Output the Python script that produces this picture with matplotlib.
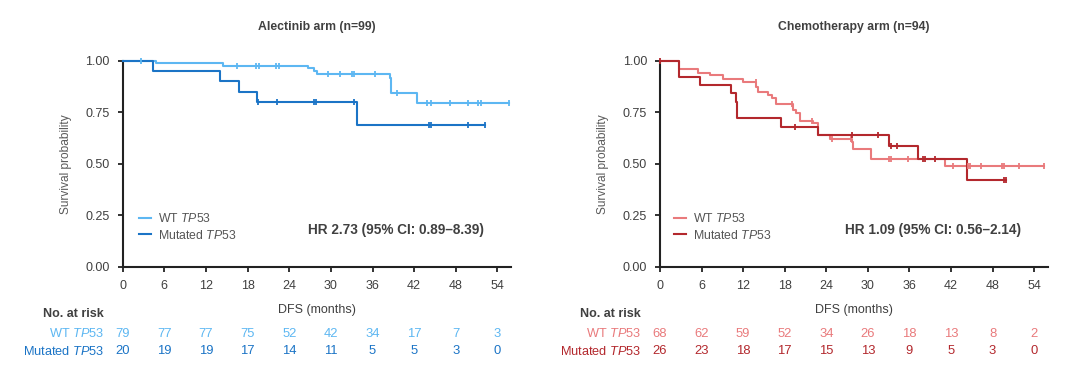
import numpy as np
import matplotlib
matplotlib.use("Agg")
import matplotlib.pyplot as plt
import matplotlib.transforms as mtransforms
from matplotlib.lines import Line2D

plt.rcParams['font.family'] = ['Liberation Sans', 'DejaVu Sans']
plt.rcParams['mathtext.fontset'] = 'custom'
plt.rcParams['mathtext.it'] = 'Liberation Sans:italic'
plt.rcParams['mathtext.rm'] = 'Liberation Sans'

# ---------------- data ----------------
month_ticks = [0, 6, 12, 18, 24, 30, 36, 42, 48, 54]
y_ticks = [0.00, 0.25, 0.50, 0.75, 1.00]

# Alectinib arm
alec_wt_times = [0, 4.8, 14.4, 26.7, 27.5, 28.0, 38.5, 38.7, 42.4, 55.6]
alec_wt_surv = [1.0, 0.987, 0.975, 0.963, 0.951, 0.935, 0.914, 0.842, 0.796, 0.796]
alec_wt_cens = [2.7, 16.4, 19.2, 19.6, 22.1, 22.5, 29.6, 31.3, 33.0, 33.3, 36.4,
                39.5, 43.9, 44.5, 47.1, 49.8, 51.2, 51.7, 55.6]
alec_mut_times = [0, 4.3, 14.0, 16.8, 19.3, 33.7, 52.2]
alec_mut_surv = [1.0, 0.95, 0.90, 0.85, 0.80, 0.686, 0.686]
alec_mut_cens = [19.5, 22.2, 27.5, 27.8, 33.3, 44.2, 44.5, 49.7, 52.2]
alec_wt_risk = [79, 77, 77, 75, 52, 42, 34, 17, 7, 3]
alec_mut_risk = [20, 19, 19, 17, 14, 11, 5, 5, 3, 0]

# Chemotherapy arm
chemo_wt_times = [0, 2.74, 5.5, 7.2, 9.1, 12.0, 13.9, 14.1, 15.6, 16.1, 16.8, 19.2,
                  19.7, 20.2, 22.1, 22.8, 24.5, 27.7, 27.9, 30.4, 41.1, 55.4]
chemo_wt_surv = [1.0, 0.958, 0.942, 0.929, 0.911, 0.895, 0.874, 0.846, 0.833, 0.82,
                 0.788, 0.761, 0.745, 0.709, 0.696, 0.639, 0.62, 0.605, 0.57, 0.523,
                 0.49, 0.49]
chemo_wt_cens = [13.8, 19.0, 22.0, 24.8, 27.5, 33.0, 33.3, 35.8, 42.3, 44.5, 44.8,
                 46.3, 49.3, 49.6, 51.8, 55.4]
chemo_mut_times = [0, 2.74, 5.8, 10.3, 10.9, 11.1, 17.5, 22.8, 33.1, 37.3, 44.3, 49.9]
chemo_mut_surv = [1.0, 0.919, 0.882, 0.842, 0.801, 0.72, 0.677, 0.639, 0.586, 0.523,
                  0.419, 0.419]
chemo_mut_cens = [0.0, 19.5, 27.7, 31.5, 33.4, 34.2, 38.0, 38.3, 39.7, 49.6, 49.9]
chemo_wt_risk = [68, 62, 59, 52, 34, 26, 18, 13, 8, 2]
chemo_mut_risk = [26, 23, 18, 17, 15, 13, 9, 5, 3, 0]

titles = ["Alectinib arm (n=99)", "Chemotherapy arm (n=94)"]
hr_texts = ["HR 2.73 (95% CI: 0.89\u20138.39)", "HR 1.09 (95% CI: 0.56\u20132.14)"]
series_labels = ["WT $\\mathit{TP53}$", "Mutated $\\mathit{TP53}$"]

blue_light = "#5DB7F2"
blue_dark = "#1B74C6"
red_light = "#E97A7C"
red_dark = "#B3282D"
txt = "#404040"

W, H = 1080, 370
fig = plt.figure(figsize=(W / 100, H / 100), dpi=100)

axes_px = [(122.7, 60.7, 388.6, 206.0), (660.0, 60.7, 388.0, 206.0)]

panels = [
    dict(wt=(alec_wt_times, alec_wt_surv, alec_wt_cens, alec_wt_risk),
         mut=(alec_mut_times, alec_mut_surv, alec_mut_cens, alec_mut_risk),
         colors=(blue_light, blue_dark)),
    dict(wt=(chemo_wt_times, chemo_wt_surv, chemo_wt_cens, chemo_wt_risk),
         mut=(chemo_mut_times, chemo_mut_surv, chemo_mut_cens, chemo_mut_risk),
         colors=(red_light, red_dark)),
]


def step_value(times, surv, t):
    idx = np.searchsorted(np.asarray(times), t, side='right') - 1
    idx = np.clip(idx, 0, len(surv) - 1)
    return np.asarray(surv)[idx]


for i, (p, (lx, ty, w, h)) in enumerate(zip(panels, axes_px)):
    ax = fig.add_axes([lx / W, 1 - (ty + h) / H, w / W, h / H])
    ax.set_xlim(0, 56)
    ax.set_ylim(0, 1)
    for key, col in zip(("wt", "mut"), p["colors"]):
        tms, sv, cens, risk = p[key]
        ax.step(tms, sv, where='post', color=col, lw=1.5, clip_on=False, zorder=3)
        cy = step_value(tms, sv, cens)
        ax.plot(cens, cy, ls='none', marker='|', ms=5, mew=1.3, color=col,
                clip_on=False, zorder=4)
    for s in ("top", "right"):
        ax.spines[s].set_visible(False)
    for s in ("left", "bottom"):
        ax.spines[s].set_linewidth(1.5)
        ax.spines[s].set_color("#222222")
    ax.set_xticks(month_ticks)
    ax.set_yticks(y_ticks)
    ax.set_yticklabels([f"{v:.2f}" for v in y_ticks])
    ax.tick_params(axis='both', length=3.3, width=1.3, color="#222222",
                   labelsize=9, labelcolor=txt)
    ax.tick_params(axis='y', pad=6)
    ax.tick_params(axis='x', pad=6.5)
    ax.set_ylabel("Survival probability", fontsize=8.6, color="#5a5a5a", labelpad=10)
    ax.set_xlabel("DFS (months)", fontsize=9, color=txt, labelpad=8.5)
    ax.text(0.5, 1.165, titles[i], transform=ax.transAxes, ha='center', va='center',
            fontsize=8.8, fontweight='bold', color=txt)
    ax.text(0.477, 0.178, hr_texts[i], transform=ax.transAxes, ha='left',
            va='center', fontsize=9.8, fontweight='bold', color=txt)
    handles = [Line2D([], [], color=c, lw=1.5) for c in p["colors"]]
    leg = ax.legend(handles, series_labels, loc='lower left',
                    bbox_to_anchor=(0.02 if i == 0 else 0.015, 0.08),
                    frameon=False, fontsize=8.8, handlelength=0.95,
                    handletextpad=0.6, labelspacing=0.3, borderpad=0.2)
    for t in leg.get_texts():
        t.set_color("#555555")
    # risk table
    trans = mtransforms.blended_transform_factory(ax.transData, ax.transAxes)
    ax.text(-0.05, -0.228, "No. at risk", transform=ax.transAxes, ha='right',
            va='center', fontsize=9, fontweight='bold', color=txt)
    for key, col, yrow, lab in zip(("wt", "mut"), p["colors"], (-0.325, -0.41),
                                   series_labels):
        risk = p[key][3]
        ax.text(-0.048, yrow, lab, transform=ax.transAxes, ha='right', va='center',
                fontsize=9.2, color=col)
        for xm, n in zip(month_ticks, risk):
            ax.text(xm, yrow, str(n), transform=trans, ha='center', va='center',
                    fontsize=9.4, color=col)

fig.savefig("out.png", dpi=100)
